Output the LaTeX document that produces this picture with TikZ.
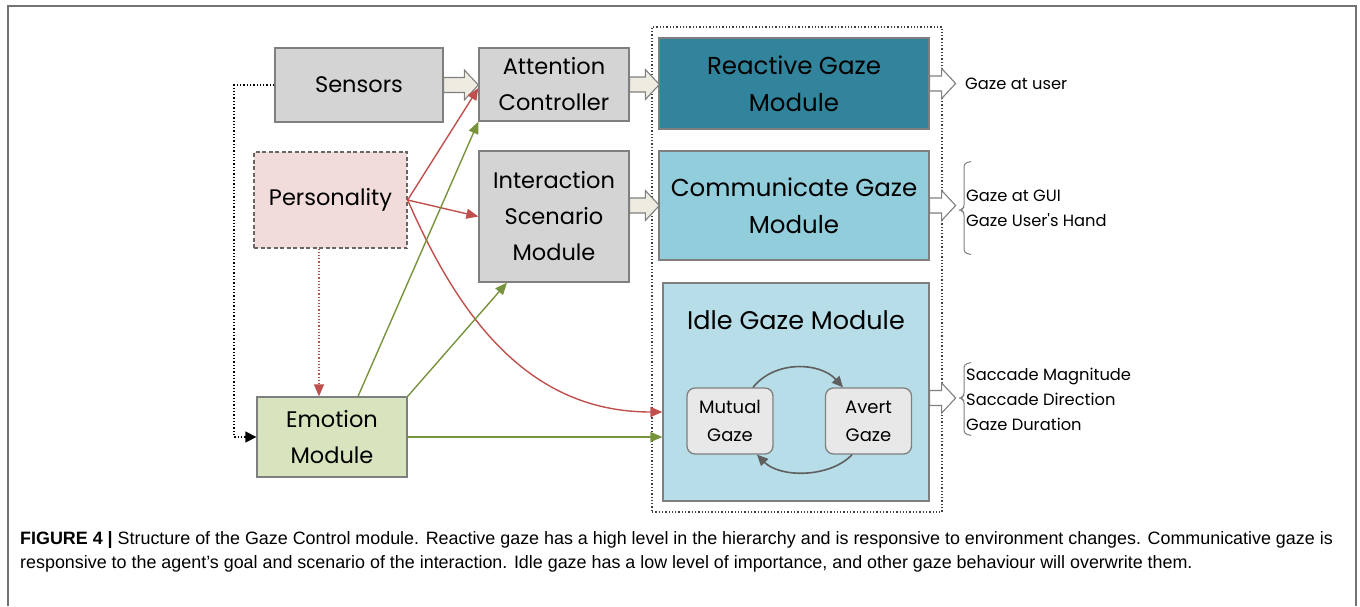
\documentclass[tikz,border=0pt]{standalone}
\usepackage{fontspec}
\setmainfont{Liberation Sans}
\newfontfamily\gfont{Poppins}
\usetikzlibrary{calc,arrows.meta}

\definecolor{edgegray}{HTML}{7F7F7F}
\definecolor{boxgray}{HTML}{D4D4D4}
\definecolor{pinkfill}{HTML}{F2DCDB}
\definecolor{greenfill}{HTML}{D7E4BD}
\definecolor{tealfill}{HTML}{31849B}
\definecolor{bluefill}{HTML}{92CDDC}
\definecolor{idlefill}{HTML}{B7DEE8}
\definecolor{statefill}{HTML}{E8E8E8}
\definecolor{creamfill}{HTML}{EEECE1}
\definecolor{redline}{HTML}{C0504D}
\definecolor{greenline}{HTML}{77933C}
\definecolor{loopgray}{HTML}{5F5F5F}

% fat block arrow from a tail point to a tip point on the same height
\newcommand\fatarrow[3][]{%
  \draw[#1] let \p1=#2, \p2=#3 in
    (\x1,\y1-7.5pt) -- (\x2-14pt,\y1-7.5pt) -- (\x2-14pt,\y1-15pt) -- (\x2,\y1)
    -- (\x2-14pt,\y1+15pt) -- (\x2-14pt,\y1+7.5pt) -- (\x1,\y1+7.5pt) -- cycle;}

\tikzset{
  box/.style={draw=edgegray, line width=1.3pt, align=center, inner sep=2pt,
    font=\gfont\fontsize{22.5}{36}\selectfont},
  module/.style={box, font=\gfont\fontsize{24.5}{37}\selectfont},
  statebox/.style={box, rounded corners=8pt, fill=statefill,
    font=\gfont\fontsize{18}{28}\selectfont, minimum width=86pt, minimum height=66pt},
  outlabel/.style={anchor=west, align=left, inner sep=0pt,
    font=\gfont\fontsize{16.3}{25}\selectfont},
  feed/.style={draw=edgegray, line width=1.1pt, fill=creamfill},
  emit/.style={draw=edgegray, line width=1.1pt, fill=white},
  redarrow/.style={draw=redline, line width=1.4pt, -{Triangle[length=12pt,width=10pt]}},
  greenarrow/.style={draw=greenline, line width=1.4pt, -{Triangle[length=12pt,width=10pt]}},
  looparrow/.style={draw=loopgray, line width=1.6pt, -{Triangle[length=11pt,width=10pt]}},
  bracket/.style={draw=gray, line width=1pt, rounded corners=3pt},
}

\begin{document}
\begin{tikzpicture}[x=1pt, y=-1pt]
\useasboundingbox (0,0) rectangle (1360,606);

% outer frame, open at the bottom
\draw[gray!90!black, line width=1.5pt] (8,606) -- (8,6) -- (1356,6) -- (1356,606);

% dotted container of the three gaze modules
\node[draw=black!75, dotted, line width=1.3pt, minimum width=290pt, minimum height=485pt,
  inner sep=0pt] (ctr) at (797,269.5) {};

% input side
\node[box, fill=boxgray, minimum width=168pt, minimum height=74pt] (sens) at (359,85) {Sensors};
\node[box, fill=boxgray, minimum width=150pt, minimum height=73pt] (att) at (554,84.5) {Attention\\Controller};
\node[box, fill=pinkfill, draw=black!60, dash pattern=on 4pt off 2.5pt, minimum width=153pt, minimum height=96pt] (pers) at (330.5,200) {Personality};
\node[box, fill=boxgray, minimum width=150pt, minimum height=131pt] (ism) at (554,216.5) {Interaction\\Scenario\\Module};
\node[box, fill=greenfill, minimum width=150pt, minimum height=80pt] (emo) at (332,437) {Emotion\\Module};

% gaze modules
\node[module, fill=tealfill, minimum width=270pt, minimum height=91pt] (rgm) at (794,83.5) {Reactive Gaze\\Module};
\node[module, fill=bluefill, minimum width=270pt, minimum height=109pt] (cgm) at (794,205.5) {Communicate Gaze\\Module};
\node[module, fill=idlefill, minimum width=266pt, minimum height=218pt] (idle) at (796,392) {};
\node[font=\gfont\fontsize{25.5}{36}\selectfont, inner sep=0pt] (idlet) at (796,320) {Idle Gaze Module};
\node[statebox] (mut) at (730,421) {Mutual\\Gaze};
\node[statebox] (avt) at (868.5,421) {Avert\\Gaze};

% state transitions inside the idle module
\draw[looparrow] ($(mut.north)+(23,0)$) .. controls (775,360) and (820,362) .. ($(avt.north)+(-25.5,0)$);
\draw[looparrow] ($(avt.south)+(-16.5,0)$) .. controls (830,478) and (780,478) .. ($(mut.south)+(27,0)$);

% block arrows
\fatarrow[feed]{(sens.east)}{($(sens.east -| att.west)+(0,2)$)}
\fatarrow[feed]{(att.east)}{($(att.east -| rgm.west)+(1,0)$)}
\fatarrow[feed]{(ism.east |- cgm.west)}{($(cgm.west)+(1,0)$)}
\fatarrow[emit]{(rgm.east)}{($(rgm.east)+(26,0)$)}
\fatarrow[emit]{(cgm.east)}{($(cgm.east)+(26,0)$)}
\fatarrow[emit]{($(idle.east |- avt.west)+(0,-23)$)}{($(idle.east |- avt.west)+(26,-23)$)}

% outputs
\node[outlabel] (o1) at (965,84) {Gaze at user};
\node[outlabel] (o2) at (966,208) {Gaze at GUI\\Gaze User's Hand};
\node[outlabel] (o3) at (966,399) {Saccade Magnitude\\Saccade Direction\\Gaze Duration};
\draw[bracket] ($(o2.north west)+(5,-28)$) -- ($(o2.north west)+(-2,-26)$) -- ($(o2.west)+(-2,0)$)
  -- ($(o2.west)+(-6,2)$) -- ($(o2.west)+(-2,4)$) -- ($(o2.south west)+(-2,26)$) -- ($(o2.south west)+(5,28)$);
\draw[bracket] ($(o3.north west)+(5,-5)$) -- ($(o3.north west)+(-2,-3)$) -- ($(o3.west)+(-2,-3)$)
  -- ($(o3.west)+(-6,-1)$) -- ($(o3.west)+(-2,1)$) -- ($(o3.south west)+(-2,3)$) -- ($(o3.south west)+(5,5)$);

% influences
\draw[redarrow] (pers.east) -- ($(att.west)+(0,3.5)$);
\draw[redarrow] (pers.east) -- (ism.west);
\draw[redarrow] (pers.east) .. controls (460,320) and (530,412) .. ($(idle.west)+(0,20)$);
\draw[redline, line width=1.2pt, dotted, -{Triangle[length=12pt,width=10pt]}]
  ($(pers.south)+(-11.5,0)$) -- ($(emo.north)+(-13,0)$);
\draw[greenarrow] ($(emo.north)+(26,0)$) -- (att.south west);
\draw[greenarrow] (emo.north east) -- ($(ism.south)+(-47,0)$);
\draw[greenarrow] (emo.east) -- (emo.east -| idle.west);
\draw[black, line width=1.3pt, dotted, -{Triangle[length=11pt,width=11pt]}]
  (sens.west) -- (234,85) |- (emo.west);

% caption
\node[anchor=west, inner sep=0pt, font=\fontsize{17.9}{22}\selectfont] (cap1) at (20,540)
  {\textbf{FIGURE 4 |} Structure of the Gaze Control module. Reactive gaze has a high level in the hierarchy and is responsive to environment changes. Communicative gaze is};
\node[anchor=west, inner sep=0pt, font=\fontsize{17.9}{22}\selectfont] (cap2) at (20,564)
  {responsive to the agent's goal and scenario of the interaction. Idle gaze has a low level of importance, and other gaze behaviour will overwrite them.};
\end{tikzpicture}
\end{document}
